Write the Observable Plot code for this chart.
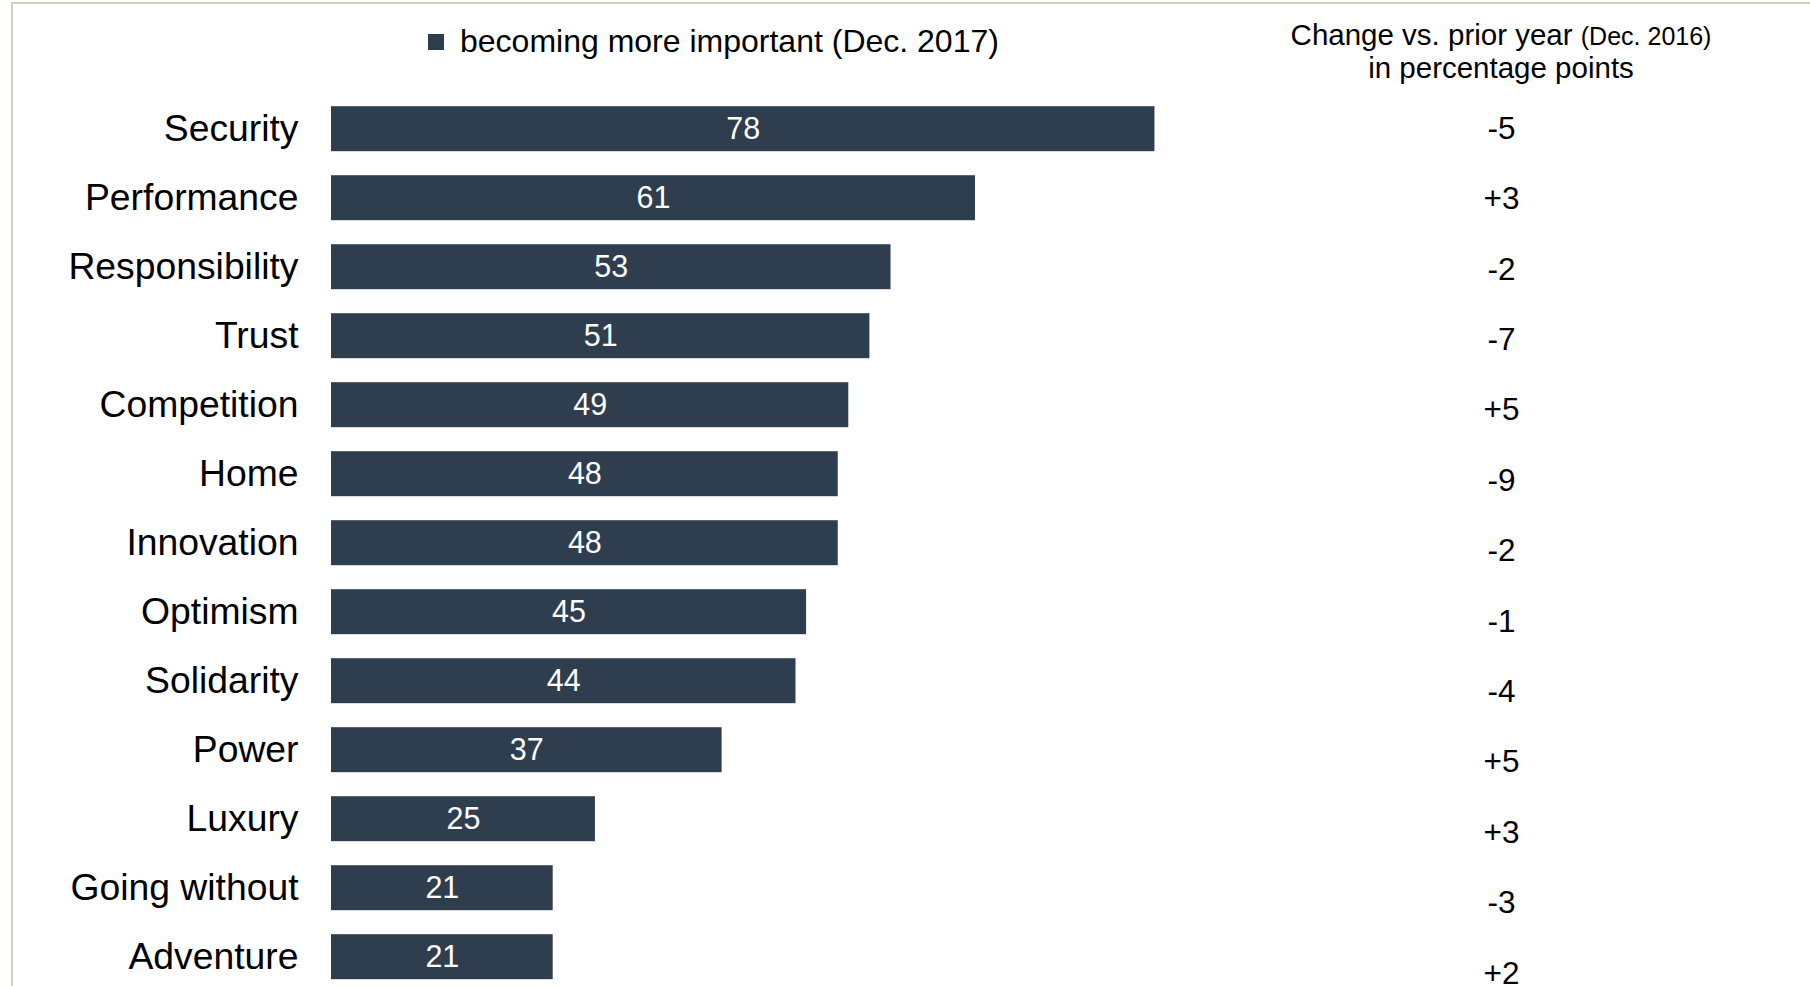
<!DOCTYPE html>
<html>
<head>
<meta charset="utf-8">
<script src="https://cdn.jsdelivr.net/npm/d3@7"></script>
<script src="https://cdn.jsdelivr.net/npm/@observablehq/plot@0.6"></script>
<style>
  html, body { margin: 0; padding: 0; background: #fff; }
  #wrap { position: relative; width: 1810px; height: 986px; overflow: hidden; font-family: "Liberation Sans", Arial, sans-serif; }
  #frame { position: absolute; left: 11px; top: 2px; right: 0; bottom: 0; border-top: 2px solid #d3cec0; border-left: 2px solid #d3cec0; }
  .layer { position: absolute; left: 0; top: 0; }
  .layer svg { display: block; }
  #legend { position: absolute; left: 428px; top: 25px; font-size: 32px; line-height: 32px; color: #000; white-space: nowrap; }
  #legend .sw { position: absolute; left: 0; top: 9px; width: 16px; height: 16px; background: #2f3e4e; }
  #legend .lbl { position: absolute; left: 32px; top: 0; }
  #head { position: absolute; left: 1201px; width: 600px; top: 19px; text-align: center; font-size: 29.5px; line-height: 32px; color: #000; white-space: nowrap; }
  #head .small { font-size: 25px; }
</style>
</head>
<body>
<div id="wrap">
  <div id="frame"></div>
  <div id="main" class="layer"></div>
  <div id="changes" class="layer"></div>
  <div id="legend"><span class="sw"></span><span class="lbl">becoming more important (Dec. 2017)</span></div>
  <div id="head"><div>Change vs. prior year <span class="small">(Dec. 2016)</span></div><div>in percentage points</div></div>
</div>
<script>
const categories = ["Security", "Performance", "Responsibility", "Trust", "Competition", "Home", "Innovation", "Optimism", "Solidarity", "Power", "Luxury", "Going without", "Adventure"];
const values2017 = [78, 61, 53, 51, 49, 48, 48, 45, 44, 37, 25, 21, 21];
const changeVsPrior = ["-5", "+3", "-2", "-7", "+5", "-9", "-2", "-1", "-4", "+5", "+3", "-3", "+2"];

const data = categories.map((c, i) => ({category: c, value: values2017[i], change: changeVsPrior[i]}));
const barColor = "#2f3e4e";

const main = Plot.plot({
  width: 1810,
  height: 986,
  marginLeft: 331,
  marginRight: 423.3,
  marginTop: 0,
  marginBottom: 0,
  style: {fontFamily: "'Liberation Sans', Arial, sans-serif", color: "#000", background: "transparent"},
  x: {domain: [0, 100], axis: null},
  y: {domain: categories, range: [82.2, 1003.2], paddingInner: 0.348, paddingOuter: 0.348, round: false, label: null},
  marks: [
    Plot.barX(data, {x: "value", y: "category", fill: barColor}),
    Plot.text(data, {x: d => d.value / 2, y: "category", text: d => String(d.value), fill: "#fff", fontSize: 30.5}),
    Plot.axisY({tickSize: 0, tickPadding: 33, fontSize: 37.3, label: null, fill: "#000"})
  ]
});
document.getElementById("main").appendChild(main);

const changes = Plot.plot({
  width: 1810,
  height: 986,
  marginLeft: 1192,
  marginRight: 0,
  marginTop: 0,
  marginBottom: 0,
  style: {fontFamily: "'Liberation Sans', Arial, sans-serif", color: "#000", background: "transparent"},
  y: {type: "point", domain: categories, range: [128.1, 973.1], padding: 0, round: false, axis: null},
  marks: [
    Plot.text(data, {y: "category", text: "change", fill: "#000", fontSize: 31.5})
  ]
});
document.getElementById("changes").appendChild(changes);
</script>
</body>
</html>
